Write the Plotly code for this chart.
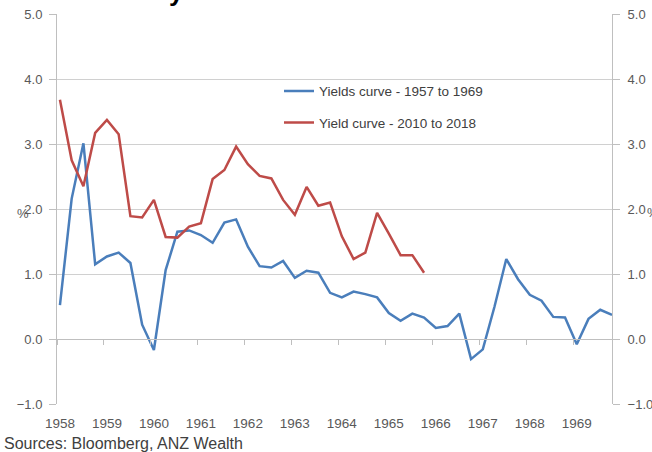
import plotly.graph_objects as go

# Quarterly observations
years = [1958, 1959, 1960, 1961, 1962, 1963, 1964, 1965, 1966, 1967, 1968, 1969]

blue_name = "Yields curve - 1957 to 1969"
blue_vals = [0.52, 2.16, 3.01, 1.15, 1.27, 1.33, 1.17, 0.22, -0.17, 1.06,
             1.65, 1.67, 1.60, 1.48, 1.79, 1.84, 1.42, 1.12, 1.10, 1.20,
             0.94, 1.05, 1.02, 0.71, 0.64, 0.73, 0.69, 0.64, 0.40, 0.28,
             0.39, 0.33, 0.17, 0.20, 0.39, -0.31, -0.16, 0.50, 1.23, 0.92,
             0.68, 0.59, 0.34, 0.33, -0.08, 0.31, 0.45, 0.37]

red_name = "Yield curve - 2010 to 2018"
red_vals = [3.68, 2.75, 2.35, 3.17, 3.37, 3.15, 1.89, 1.87, 2.14, 1.57,
            1.56, 1.73, 1.78, 2.46, 2.60, 2.96, 2.69, 2.51, 2.47, 2.14,
            1.91, 2.34, 2.05, 2.10, 1.58, 1.23, 1.33, 1.94, 1.62, 1.29,
            1.29, 1.02]

y_ticks = [-1.0, 0.0, 1.0, 2.0, 3.0, 4.0, 5.0]

blue_x = list(range(len(blue_vals)))
red_x = list(range(len(red_vals)))
year_pos = [4 * i for i in range(len(years))]
tick_pos = [4 * i - 0.25 for i in range(len(years) + 1)]

FONT = "Liberation Sans"
GREY = "#595959"
X_RANGE = [-0.25, 47]
Y_RANGE = [-1, 5]

fig = go.Figure()
fig.add_trace(go.Scatter(x=blue_x, y=blue_vals, name=blue_name, mode="lines",
                         line=dict(color="#4A7EBB", width=2.5),
                         legendgroup="a", xaxis="x", yaxis="y"))
fig.add_trace(go.Scatter(x=red_x, y=red_vals, name=red_name, mode="lines",
                         line=dict(color="#BE4B48", width=2.5),
                         legendgroup="b", xaxis="x2", yaxis="y2"))

zero_frac = (0 - Y_RANGE[0]) / (Y_RANGE[1] - Y_RANGE[0])

fig.update_layout(
    width=652, height=452,
    margin=dict(l=57, r=40, t=14, b=48, autoexpand=False),
    paper_bgcolor="white", plot_bgcolor="white",
    font=dict(family=FONT, size=12, color=GREY),
    showlegend=True,
    legend=dict(x=0.40, y=0.842, xanchor="left", yanchor="top",
                bgcolor="rgba(255,255,255,0)", borderwidth=0,
                font=dict(family=FONT, size=13.5, color="#404040"),
                tracegroupgap=11, itemwidth=30),
    xaxis=dict(range=X_RANGE, tickvals=year_pos, ticktext=[str(y) for y in years],
               showgrid=False, zeroline=False, showline=False, ticks="",
               automargin=False, ticklabelstandoff=9,
               tickfont=dict(family=FONT, size=13.5, color=GREY)),
    xaxis2=dict(range=X_RANGE, overlaying="x", anchor="free", position=zero_frac,
                side="bottom", tickvals=tick_pos, showticklabels=False,
                showgrid=False, zeroline=False, showline=True, automargin=False,
                linecolor="#BFBFBF", linewidth=1, ticks="outside",
                ticklen=5, tickcolor="#BFBFBF"),
    yaxis=dict(range=Y_RANGE, tickvals=y_ticks, tickformat=".1f",
               showgrid=True, gridcolor="#D0D0D0", gridwidth=1, automargin=False,
               zeroline=False, showline=True, linecolor="#BFBFBF", linewidth=1,
               ticks="outside", ticklen=7, tickcolor="#BFBFBF",
               ticklabelstandoff=4,
               tickfont=dict(family=FONT, size=13, color=GREY)),
    yaxis2=dict(range=Y_RANGE, tickvals=y_ticks, tickformat=".1f",
                overlaying="y", side="right", anchor="x", automargin=False,
                showgrid=False, zeroline=False, showline=True,
                linecolor="#BFBFBF", linewidth=1,
                ticks="outside", ticklen=7, tickcolor="#BFBFBF",
                ticklabelstandoff=5,
                tickfont=dict(family=FONT, size=13, color=GREY)),
    annotations=[
        dict(text="%", xref="paper", yref="y", x=-0.046, y=1.93,
             xanchor="right", yanchor="middle", showarrow=False,
             font=dict(family=FONT, size=13, color=GREY)),
        dict(text="%", xref="paper", yref="y", x=1.06, y=1.95,
             xanchor="left", yanchor="middle", showarrow=False,
             font=dict(family=FONT, size=13, color=GREY)),
        dict(text="<b>y</b>", xref="paper", yref="paper", x=0.215, y=1.012,
             xanchor="center", yanchor="bottom", showarrow=False,
             font=dict(family="Liberation Sans", size=26, color="black")),
        dict(text="Sources: Bloomberg, ANZ Wealth", xref="paper", yref="paper",
             x=-0.1, y=-0.074, xanchor="left", yanchor="top", showarrow=False,
             font=dict(family=FONT, size=16, color="#404040")),
    ],
)

fig.write_html("out.html")
